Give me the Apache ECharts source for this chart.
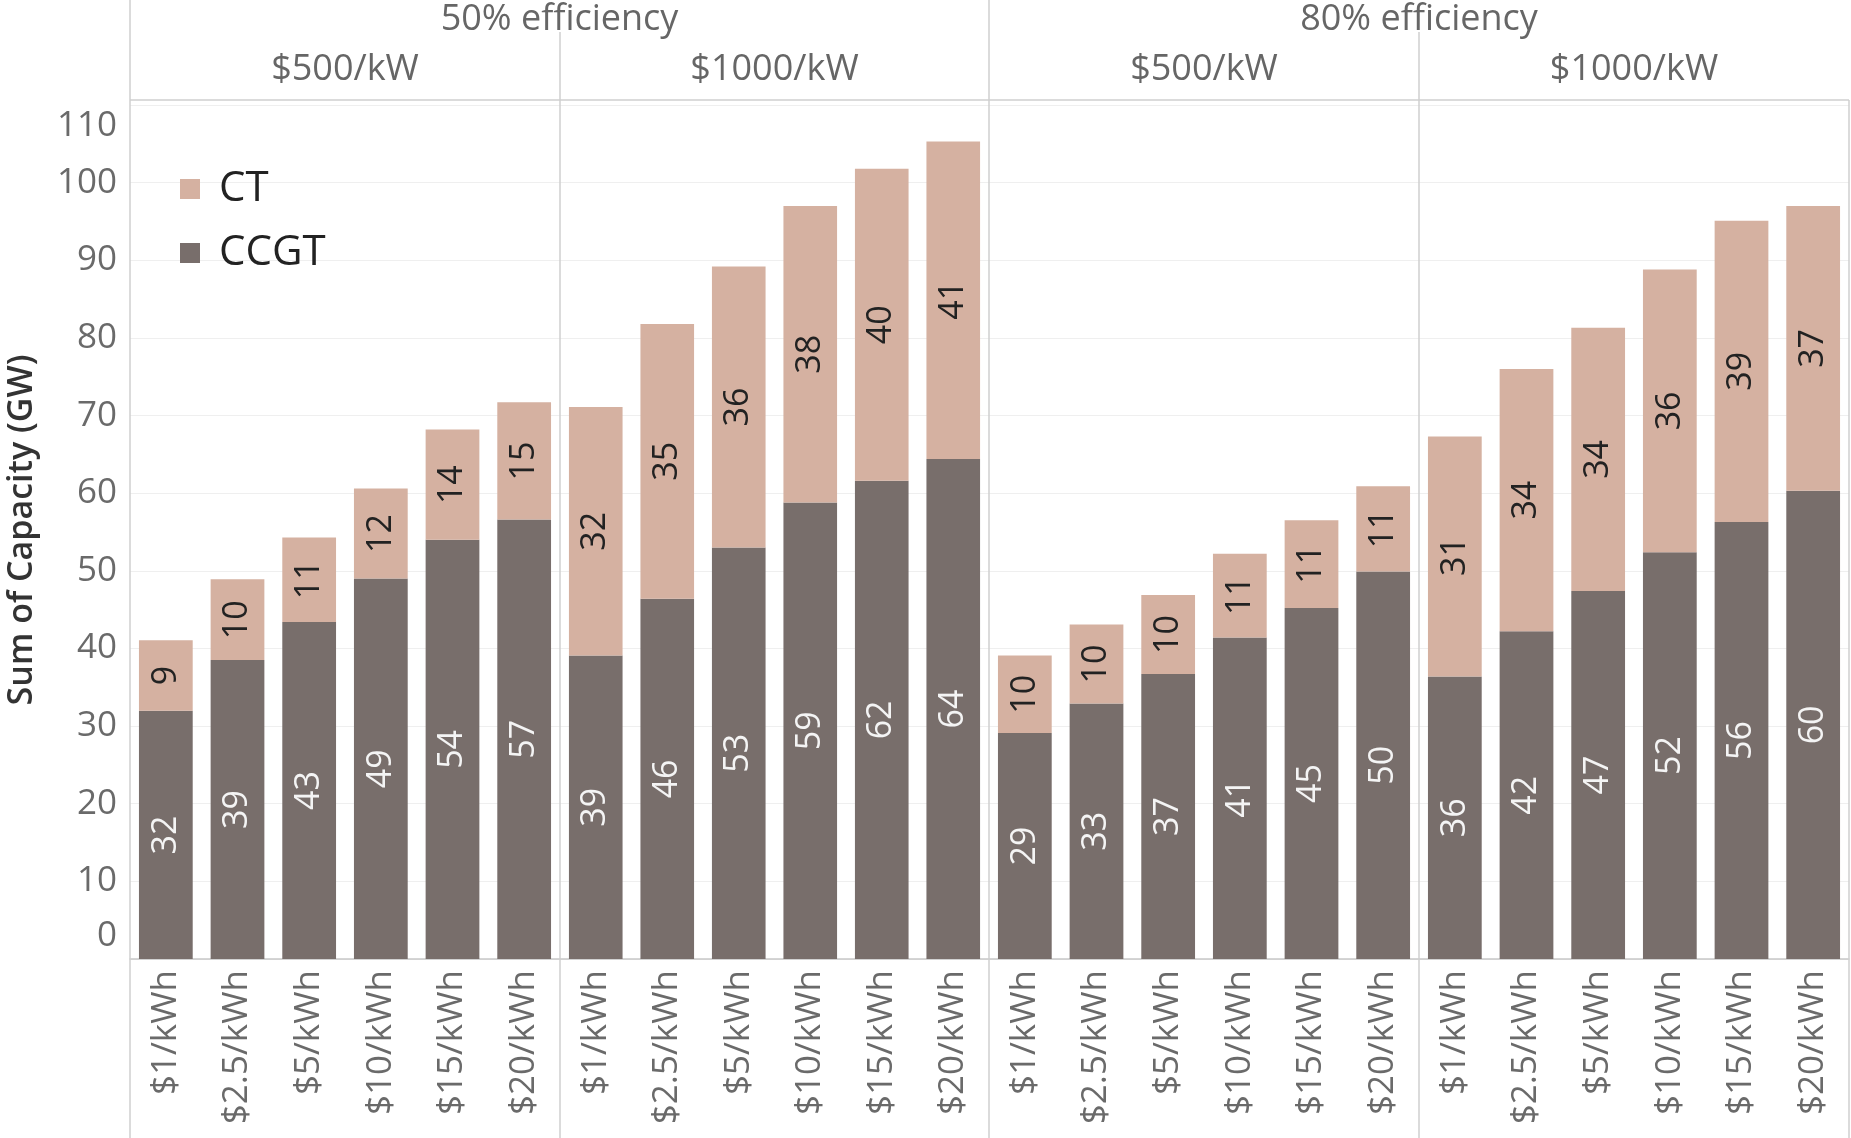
<!DOCTYPE html>
<html>
<head>
<meta charset="utf-8">
<script src="https://cdn.jsdelivr.net/npm/echarts@6/dist/echarts.min.js"></script>
<style>
html,body{margin:0;padding:0;background:#fff;}
#chart{width:1851px;height:1138px;}
</style>
</head>
<body>
<div id="chart"></div>
<script>
// ---- data ----
const categories = ['$1/kWh', '$2.5/kWh', '$5/kWh', '$10/kWh', '$15/kWh', '$20/kWh'];
const efficiencyGroups = ['50% efficiency', '80% efficiency'];
const powerCosts = ['$500/kW', '$1000/kW', '$500/kW', '$1000/kW'];
const seriesNames = ['CT', 'CCGT'];

const ccgt_50_500 = [31.96, 38.5, 43.4, 49.0, 54.0, 56.6];
const ct_50_500 = [9.1, 10.4, 10.9, 11.6, 14.2, 15.1];
const ccgt_50_1000 = [39.1, 46.4, 53.0, 58.8, 61.6, 64.4];
const ct_50_1000 = [32.0, 35.4, 36.2, 38.2, 40.2, 40.9];
const ccgt_80_500 = [29.1, 32.9, 36.7, 41.4, 45.2, 49.9];
const ct_80_500 = [10.0, 10.2, 10.2, 10.8, 11.3, 11.0];
const ccgt_80_1000 = [36.4, 42.2, 47.4, 52.4, 56.3, 60.3];
const ct_80_1000 = [30.9, 33.8, 33.9, 36.4, 38.8, 36.7];

const ccgtData = [ccgt_50_500, ccgt_50_1000, ccgt_80_500, ccgt_80_1000];
const ctData = [ct_50_500, ct_50_1000, ct_80_500, ct_80_1000];

// ---- layout ----
const edges = [130, 560, 989, 1419, 1849];
const plotTop = 105, plotBottomY = 959;
const FONT = 'Open Sans';
const CT_COLOR = '#d5b1a1';
const CCGT_COLOR = '#786e6b';

const grids = [], xAxes = [], yAxes = [], series = [];
for (let i = 0; i < 4; i++) {
  grids.push({ left: edges[i], width: edges[i + 1] - edges[i], top: plotTop, height: plotBottomY - plotTop });
  xAxes.push({
    type: 'category', gridIndex: i, data: categories,
    axisLine: { show: true, lineStyle: { color: '#c8c8c8', width: 1.5 } },
    axisTick: { show: false },
    axisLabel: { interval: 0, rotate: 90, margin: 11, fontFamily: FONT, fontSize: 35, color: '#6a6a6a' }
  });
  yAxes.push({
    type: 'value', gridIndex: i, min: 0, max: 110, interval: 10,
    axisLine: { show: false }, axisTick: { show: false },
    splitLine: { show: true, lineStyle: { color: '#efefef', width: 1 } },
    axisLabel: i === 0 ? {
      show: true, margin: 13, fontFamily: FONT, fontSize: 35, color: '#6a6a6a',
      formatter: v => v === 0 ? '{lo|0}' : (v === 110 ? '{hi|110}' : String(v)),
      rich: {
        lo: { fontFamily: FONT, fontSize: 35, color: '#6a6a6a', padding: [0, 0, 46, 0] },
        hi: { fontFamily: FONT, fontSize: 35, color: '#6a6a6a', padding: [42, 0, 0, 0] }
      }
    } : { show: false }
  });
  series.push({
    name: 'CCGT', type: 'bar', stack: 'g' + i, xAxisIndex: i, yAxisIndex: i,
    data: ccgtData[i], barCategoryGap: '25%', itemStyle: { color: CCGT_COLOR },
    label: { show: true, position: 'inside', rotate: 90, fontFamily: FONT, fontSize: 34, color: '#f4f4f4', formatter: p => Math.round(p.value) }
  });
  series.push({
    name: 'CT', type: 'bar', stack: 'g' + i, xAxisIndex: i, yAxisIndex: i,
    data: ctData[i], barCategoryGap: '25%', itemStyle: { color: CT_COLOR },
    label: { show: true, position: 'inside', rotate: 90, fontFamily: FONT, fontSize: 34, color: '#222', formatter: p => Math.round(p.value) }
  });
}

const lineStyle = { stroke: '#cfcfcf', lineWidth: 1.5 };
const graphics = [
  { type: 'line', shape: { x1: 130, y1: 0, x2: 130, y2: 1138 }, style: lineStyle, z: 10 },
  { type: 'line', shape: { x1: 989, y1: 0, x2: 989, y2: 1138 }, style: lineStyle, z: 10 },
  { type: 'line', shape: { x1: 1849, y1: 100, x2: 1849, y2: 1138 }, style: lineStyle, z: 10 },
  { type: 'line', shape: { x1: 560, y1: 32, x2: 560, y2: 1138 }, style: lineStyle, z: 10 },
  { type: 'line', shape: { x1: 1419, y1: 32, x2: 1419, y2: 1138 }, style: lineStyle, z: 10 },
  { type: 'line', shape: { x1: 130, y1: 100, x2: 1849, y2: 100 }, style: lineStyle, z: 10 },
  {
    type: 'text', x: 22, y: 530, rotation: Math.PI / 2,
    style: { text: 'Sum of Capacity (GW)', fontFamily: FONT, fontSize: 34, fontWeight: 600, fill: '#333', align: 'center', verticalAlign: 'middle' }
  }
];
efficiencyGroups.forEach((t, k) => {
  graphics.push({
    type: 'text', x: (edges[2 * k] + edges[2 * k + 2]) / 2, y: 20,
    style: { text: t, fontFamily: FONT, fontSize: 36, fill: '#666', align: 'center', verticalAlign: 'middle' }
  });
});
powerCosts.forEach((t, i) => {
  graphics.push({
    type: 'text', x: (edges[i] + edges[i + 1]) / 2, y: 70,
    style: { text: t, fontFamily: FONT, fontSize: 36, fill: '#666', align: 'center', verticalAlign: 'middle' }
  });
});

const chart = echarts.init(document.getElementById('chart'));
chart.setOption({
  animation: false,
  backgroundColor: '#fff',
  legend: {
    data: seriesNames, orient: 'vertical', left: 175, top: 163,
    itemWidth: 20, itemHeight: 20, itemGap: 22, icon: 'rect',
    textStyle: { fontFamily: FONT, fontSize: 42, color: '#222', padding: [0, 0, 0, 14] }
  },
  grid: grids, xAxis: xAxes, yAxis: yAxes, series: series,
  graphic: graphics
});
</script>
</body>
</html>
